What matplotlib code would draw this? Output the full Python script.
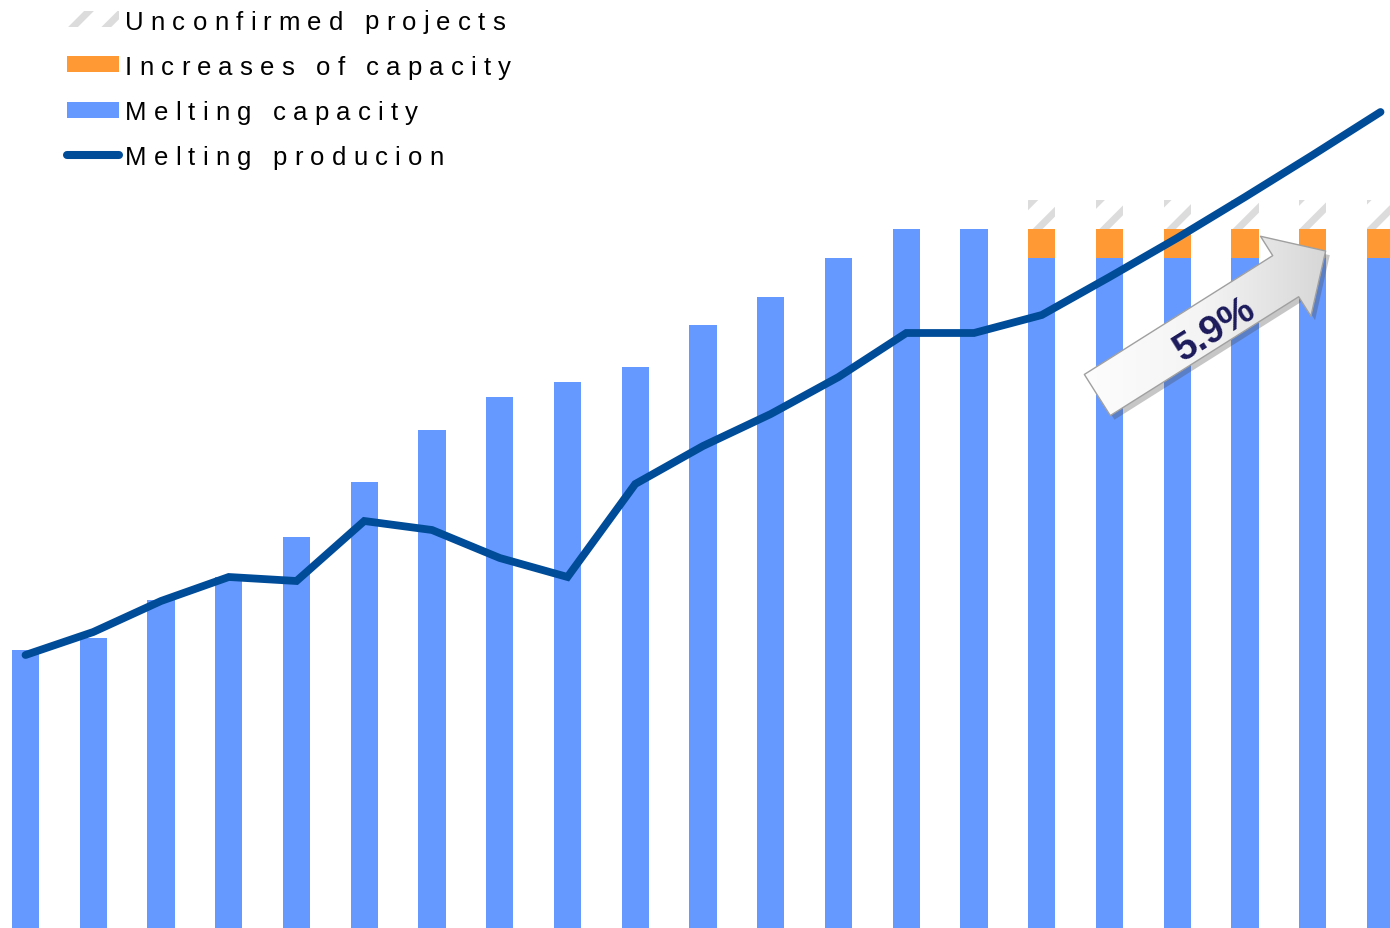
import numpy as np
import matplotlib
matplotlib.use("Agg")
import matplotlib.pyplot as plt
import matplotlib.patheffects as pe
from matplotlib.patches import Rectangle, FancyArrowPatch, ArrowStyle
from matplotlib.lines import Line2D
from matplotlib.font_manager import FontProperties, findfont
from matplotlib.ft2font import FT2Font

# one value per period, arbitrary index units
periods = np.arange(21)
capacity = [27.8, 29.0, 32.8, 35.1, 39.1, 44.6, 49.8, 53.1, 54.6, 56.1, 60.3,
            63.1, 67.0, 69.9, 69.9, 67.0, 67.0, 67.0, 67.0, 67.0, 67.0]
increases = [0, 0, 0, 0, 0, 0, 0, 0, 0, 0, 0, 0, 0, 0, 0,
             2.9, 2.9, 2.9, 2.9, 2.9, 2.9]
unconfirmed = [0, 0, 0, 0, 0, 0, 0, 0, 0, 0, 0, 0, 0, 0, 0,
               2.9, 2.9, 2.9, 2.9, 2.9, 2.9]
production = [27.3, 29.6, 32.7, 35.1, 34.7, 40.7, 39.8, 37.0, 35.1, 44.4, 48.2,
              51.4, 55.1, 59.5, 59.5, 61.3, 65.1, 69.0, 73.1, 77.3, 81.6]
legend_labels = ["Unconfirmed projects", "Increases of capacity",
                 "Melting capacity", "Melting producion"]
growth_label = "5.9%"

BLUE = '#6699ff'
ORANGE = '#ff9933'
LINE = '#004c99'
HATCH = '#dcdcdc'

plt.rcParams['hatch.linewidth'] = 5

W, H = 1390, 929
fig = plt.figure(figsize=(W / 100, H / 100), dpi=100)
ax = fig.add_axes([0, 0, 1, 1])
ax.set_axis_off()

cap = np.array(capacity)
inc = np.array(increases)
unc = np.array(unconfirmed)
bw = 0.4

ax.bar(periods, cap, width=bw, color=BLUE, linewidth=0)
m = inc > 0
ax.bar(periods[m], inc[m], bottom=cap[m], width=bw, color=ORANGE, linewidth=0)
m = unc > 0
ax.bar(periods[m], unc[m], bottom=(cap + inc)[m], width=bw, facecolor='white',
       edgecolor=HATCH, hatch='/', linewidth=0)

ax.plot(periods, production, color=LINE, linewidth=5.6, solid_capstyle='round',
        solid_joinstyle='miter', zorder=4)

ax.set_xlim(-0.3764, 20.14)
ax.set_ylim(0, 92.9)

# growth arrow with a soft grey gradient
x0, y0, x1, y1 = 15.82, 53.3, 19.19, 67.7
style = ArrowStyle.Simple(head_length=34, head_width=68, tail_width=35)
arrow = FancyArrowPatch((x0, y0), (x1, y1), arrowstyle=style, mutation_scale=1,
                        shrinkA=0, shrinkB=0, facecolor='#e2e2e2',
                        edgecolor='none', zorder=5,
                        path_effects=[pe.withSimplePatchShadow(offset=(3, -3), alpha=0.3),
                                      pe.Normal()])
ax.add_patch(arrow)
grad = np.linspace(0, 1, 256).reshape(1, -1)
img = ax.imshow(grad, cmap=matplotlib.colors.LinearSegmentedColormap.from_list(
    'g', ['#ffffff', '#f4f4f4', '#d2d2d2']), extent=(x0 - 0.6, x1 + 0.3, y0 - 6, y1 + 6),
    aspect='auto', zorder=6)
img.set_clip_path(arrow)
edge = FancyArrowPatch((x0, y0), (x1, y1), arrowstyle=style, mutation_scale=1,
                       shrinkA=0, shrinkB=0, facecolor='none',
                       edgecolor='#a0a0a0', linewidth=1, zorder=7)
ax.add_patch(edge)
ax.set_xlim(-0.3764, 20.14)
ax.set_ylim(0, 92.9)

ax.text(17.56, 59.9, growth_label, rotation=32, rotation_mode='anchor',
        ha='center', va='center', fontsize=28, fontweight='bold',
        family=['Liberation Sans Narrow', 'Liberation Sans'], color='#1c1a5a',
        zorder=8)


# legend drawn by hand in pixel positions, with wide letter spacing
def fx(px):
    return px / W


def fy(py):
    return 1 - py / H


prop = FontProperties(family='Liberation Sans', size=18.5)
ft = FT2Font(findfont(prop))
ft.set_size(18.5, 100)


def spaced_text(x, y, s, tracking=7.2):
    for ch in s:
        fig.text(fx(x), fy(y), ch, fontproperties=prop, ha='left',
                 va='baseline', color='black')
        g = ft.load_char(ord(ch))
        x += g.linearHoriAdvance / 65536 + tracking


row_h = 45.3
for i, label in enumerate(legend_labels):
    yc = 20 + row_h * i
    if i == 0:
        fig.add_artist(Rectangle((fx(67), fy(yc + 8)), 52 / W, 16 / H,
                                 transform=fig.transFigure, facecolor='white',
                                 edgecolor=HATCH, hatch='/', linewidth=0))
    elif i == 1:
        fig.add_artist(Rectangle((fx(67), fy(yc + 8)), 52 / W, 16 / H,
                                 transform=fig.transFigure, color=ORANGE, linewidth=0))
    elif i == 2:
        fig.add_artist(Rectangle((fx(67), fy(yc + 8)), 52 / W, 16 / H,
                                 transform=fig.transFigure, color=BLUE, linewidth=0))
    else:
        fig.add_artist(Line2D([fx(67), fx(119)], [fy(yc), fy(yc)],
                              transform=fig.transFigure, color=LINE,
                              linewidth=5.8, solid_capstyle='round'))
    spaced_text(125, yc + 9.5, label)

fig.savefig('out.png', dpi=100)
